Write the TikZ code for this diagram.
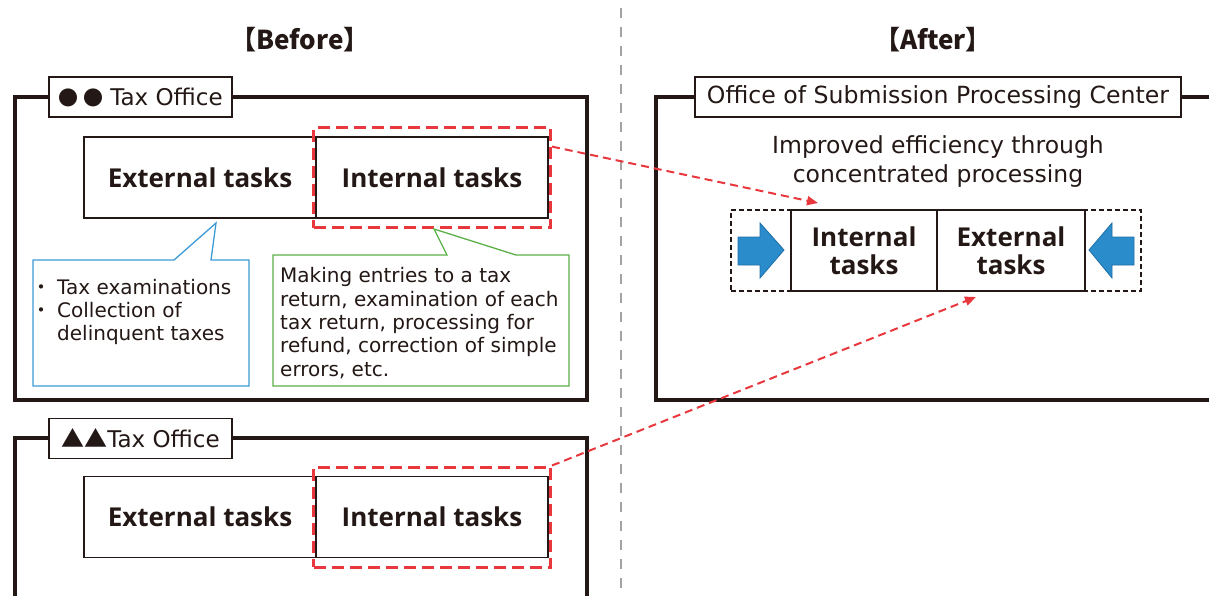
\documentclass[tikz,border=0pt]{standalone}
\usepackage{fontspec}
\setmainfont{DejaVu Sans}
\newfontfamily\taskfont{Open Sans}
\newfontfamily\cjk{Noto Sans CJK JP}
\usetikzlibrary{arrows.meta,positioning,fit,calc}
\definecolor{ink}{HTML}{231815}
\definecolor{sel}{HTML}{E8383D}
\definecolor{tip}{HTML}{2B8CCB}
\definecolor{tipedge}{HTML}{1E6FA8}
\definecolor{callb}{HTML}{3C9BD6}
\definecolor{callg}{HTML}{5BB046}
\definecolor{split}{HTML}{A3A3A3}
\newcommand{\dotmark}{\makebox[26pt][l]{\cjk ・}}
\newcommand{\twodots}{{\cjk\fontsize{20}{20}\selectfont ●\kern5pt●}\kern7pt}
\tikzset{
  >={Triangle[length=11pt,width=9pt]},
  every picture/.style={line join=miter},
  title/.style={font=\cjk\bfseries\fontsize{26}{30}\selectfont, text=ink},
  frame/.style={draw=ink, line width=3.6pt},
  tag/.style={draw=ink, fill=white, line width=1.3pt, inner sep=0pt, minimum height=40pt,
    text=ink, font=\fontsize{23}{27}\selectfont},
  task/.style={draw=ink, fill=white, line width=1.4pt, outer sep=0pt, minimum height=81pt,
    align=center, text=ink, font=\taskfont\bfseries\fontsize{26}{28}\selectfont},
  selbox/.style={draw=sel, line width=3pt, dash pattern=on 12pt off 6pt,
    inner xsep=2.5pt, inner ysep=9.5pt},
  movearr/.style={->, draw=sel, line width=2pt, dash pattern=on 8pt off 5pt},
  callout/.style={draw=#1, fill=white, line width=1.3pt},
  note/.style={align=left, inner sep=0pt, text=ink, font=\fontsize{20}{23.3}\selectfont},
  lead/.style={align=center, inner sep=0pt, text=ink, font=\fontsize{23.5}{29}\selectfont},
  zone/.style={draw=ink, line width=1.1pt, dash pattern=on 5pt off 3pt},
  push/.style={fill=tip, draw=tipedge, line width=0.8pt},
  divider/.style={draw=split, line width=2pt, dash pattern=on 10pt off 9pt},
}

\begin{document}
\begin{tikzpicture}[x=1pt, y=-1pt]
  \useasboundingbox (0,0) rectangle (1209,595);
  \clip (0,0) rectangle (1209,595);
  \draw[divider] (621,8) -- (621,600);
  \node[title] (before) at (300,40) {【Before】};
  \node[title] (after) at (933,40) {【After】};

  % ---------------- before: first office ----------------
  \draw[frame] (15,97) rectangle (587,400);
  \node[tag, minimum width=183pt] (tagA) at (140.5,97) {\twodots Tax Office};
  \node[task, minimum width=232pt] (extA) at (200,177.5) {External tasks};
  \node[task, minimum width=232pt, right=0pt of extA] (intA) {Internal tasks};
  \node[selbox, fit=(intA)] (selA) {};
  % what each kind of task covers
  \draw[callout=callb] (33,260) -- (174,260) -- (216,223) -- (211,260) -- (249,260)
    -- (249,386) -- (33,386) -- cycle;
  \draw[callout=callg] (273,255) -- (447,255) -- (434,229) -- (516,255) -- (569,255)
    -- (569,386) -- (273,386) -- cycle;
  \node[note, anchor=west] (noteA) at (31,312) {\dotmark Tax examinations\\
    \dotmark Collection of\\ \hspace*{26pt}delinquent taxes};
  \node[note, anchor=west] (noteB) at (280,323) {Making entries to a tax\\
    return, examination of each\\tax return, processing for\\
    refund, correction of simple\\errors, etc.};

  % ---------------- before: second office ----------------
  \begin{scope}[shift={(0,340)}]
    \draw[frame] (15,98) rectangle (587,320);
    \node[tag, minimum width=183pt] (tagB) at (140.5,98.5) {{\cjk ▲▲}Tax Office};
    \node[task, minimum width=232pt] (extB) at (200,177) {External tasks};
    \node[task, minimum width=232pt, right=0pt of extB] (intB) {Internal tasks};
    \node[selbox, fit=(intB)] (selB) {};
  \end{scope}

  % ---------------- after ----------------
  \draw[frame] (656,97) rectangle (1240,400);
  \node[tag, minimum width=486pt, font=\fontsize{23.6}{27}\selectfont] (tagC) at (938,97)
    {Office of Submission Processing Center};
  \node[lead] (gain) at (938,161.5) {Improved efficiency through\\concentrated processing};
  \node[zone, minimum width=410pt, minimum height=81pt] (zone) at (936,250.5) {};
  \node[task, minimum width=146pt] (intC) at (864,250.5) {Internal\\tasks};
  \node[task, minimum width=148pt, right=0pt of intC] (extC) {External\\tasks};
  \fill[push] (738,237) -- (760,237) -- (760,223) -- (784,250) -- (760,278)
    -- (760,265) -- (738,265) -- cycle;
  \fill[push] (1134,237) -- (1112,237) -- (1112,223) -- (1089,250) -- (1112,278)
    -- (1112,265) -- (1134,265) -- cycle;

  % internal tasks move to the center
  \draw[movearr] ($(selA.north east)!0.2!(selA.south east)$) -- ($(intC.north west)+(27,-7)$);
  \draw[movearr] (selB.north east) -- ($(extC.south west)+(39,6)$);
\end{tikzpicture}
\end{document}
